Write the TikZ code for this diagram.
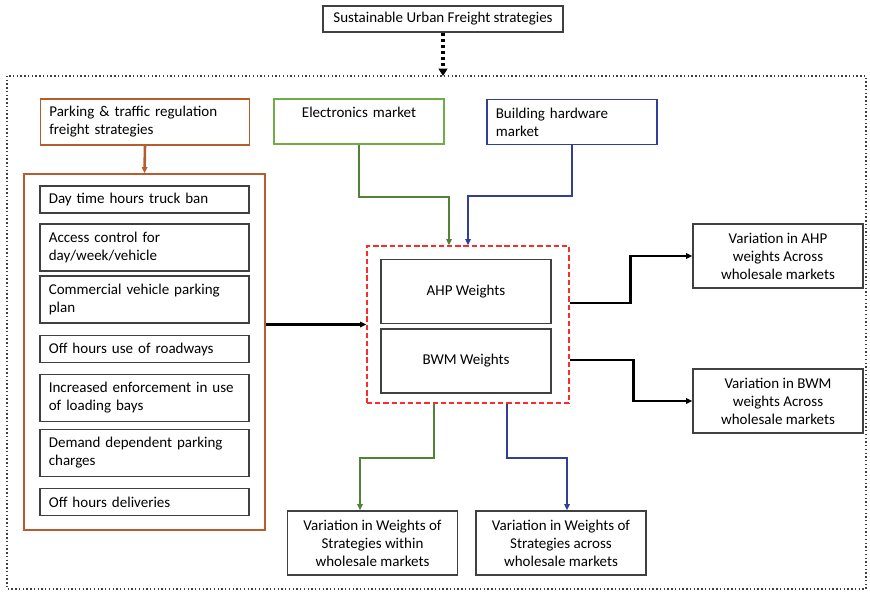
\documentclass[tikz,border=0pt]{standalone}
\usepackage{fontspec}
\setmainfont{Carlito}
\usetikzlibrary{arrows.meta,calc}
\usepackage{xcolor}

\definecolor{boxgray}{RGB}{64,64,64}
\definecolor{parkbrown}{RGB}{183,92,45}
\definecolor{elecgreen}{RGB}{112,173,71}
\definecolor{linegreen}{RGB}{84,130,53}
\definecolor{hardblue}{RGB}{47,64,150}
\definecolor{weightred}{RGB}{250,45,45}

\tikzset{
  box/.style={draw=boxgray, line width=1.4pt, font=\fontsize{12.8}{15.4}\selectfont, inner xsep=7.5pt},
  stratbox/.style={box, text width=57.4mm, align=left, minimum height=8.1mm},
  mktbox/.style={box, text width=45.7mm, minimum height=13.5mm},
  resbox/.style={box, align=center, minimum width=51mm, minimum height=19.2mm},
  tip/.style={-{Triangle[length=1.8mm,width=1.6mm]}},
}

\begin{document}
\begin{tikzpicture}[x=0.3mm,y=-0.3mm]
  \useasboundingbox (0,0) rectangle (870,592);

  % Top box and dotted frame
  \node[box, minimum width=72mm, minimum height=7.8mm] (top) at (443,19) {Sustainable Urban Freight strategies};
  \draw[boxgray, dotted, line width=1.2pt] (7,76) rectangle (866,589);
  \coordinate (ftop) at (443,76);
  \draw[black, line width=2.6pt, dash pattern=on 2.6pt off 2.6pt, -{Triangle[length=2.2mm,width=2.6mm]}] (top.south) -- (ftop);

  % Parking & traffic regulation strategies
  \node[box, draw=parkbrown, text width=57.4mm, align=left, minimum height=13.8mm] (park) at (145,122)
    {Parking \& traffic regulation\\freight strategies};
  \node[draw=parkbrown, line width=1.4pt, minimum width=72.3mm, minimum height=106.8mm] (grp) at (144.5,352) {};
  \draw[parkbrown, line width=2.2pt, tip] (park.south) -- (grp.north);

  \node[stratbox] (s1) at (144.5,199.5) {Day time hours truck ban};
  \node[stratbox, minimum height=14.1mm] (s2) at (144.5,247.5) {Access control for\\day/week/vehicle};
  \node[stratbox, minimum height=14.1mm] (s3) at (144.5,299.5) {Commercial vehicle parking\\plan};
  \node[stratbox] (s4) at (144.5,349) {Off hours use of roadways};
  \node[stratbox, minimum height=14.1mm] (s5) at (144.5,398) {Increased enforcement in use\\of loading bays};
  \node[stratbox, minimum height=14.1mm] (s6) at (144.5,453) {Demand dependent parking\\charges};
  \node[stratbox] (s7) at (144.5,502) {Off hours deliveries};

  % Markets
  \node[mktbox, draw=elecgreen, align=center] (elec) at (359,121.5) {Electronics market\\\mbox{}};
  \node[mktbox, draw=hardblue, align=left] (hard) at (572,122) {Building hardware\\market};

  % Weights
  \node[draw=weightred, dash pattern=on 4.5pt off 2.5pt, line width=1.4pt, minimum width=60.6mm, minimum height=47.1mm] (red) at (468,324.5) {};
  \node[resbox] (ahp) at (466,291.5) {AHP Weights};
  \node[resbox] (bwm) at (466,361) {BWM Weights};

  \draw[linegreen, line width=1.7pt, tip] (elec.south) -- ++(0,-15.6mm) -| ([xshift=-5.7mm]red.north);
  \draw[hardblue, line width=1.7pt, tip] (hard.south) -- ++(0,-15.3mm) -| (red.north);
  \draw[black, line width=2.3pt, tip] (red.west -| grp.east) -- (red.west);

  % Results
  \node[resbox] (varahp) at (778,256) {Variation in AHP\\weights Across\\wholesale markets};
  \node[resbox] (varbwm) at (778,401) {Variation in BWM\\weights Across\\wholesale markets};
  \node[resbox] (within) at (372.5,543) {Variation in Weights of\\Strategies within\\wholesale markets};
  \node[resbox] (across) at (561,543) {Variation in Weights of\\Strategies across\\wholesale markets};

  \draw[black, line width=2.3pt, tip] ([yshift=6.45mm]red.east) -- ++(18.3mm,0) |- (varahp.west);
  \draw[black, line width=2.3pt, tip] ([yshift=-10.65mm]red.east) -- ++(19.2mm,0) |- (varbwm.west);
  \draw[linegreen, line width=1.7pt, tip] ([xshift=-10.2mm]red.south) -- ++(0,-16.2mm) -| ([xshift=-3.75mm]within.north);
  \draw[hardblue, line width=1.7pt, tip] ([xshift=11.7mm]red.south) -- ++(0,-16.2mm) -| ([xshift=1.8mm]across.north);
\end{tikzpicture}
\end{document}
